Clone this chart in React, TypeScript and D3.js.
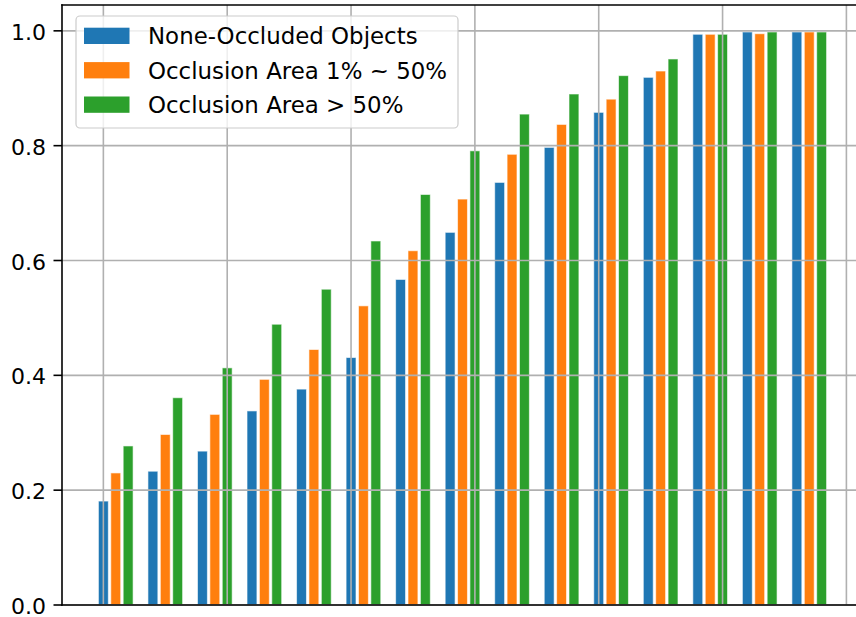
import React from "react";
import * as d3 from "d3";

const groups = d3.range(15);
const seriesNames = ["None-Occluded Objects", "Occlusion Area 1% ~ 50%", "Occlusion Area > 50%"];
const nonOccluded = [0.181, 0.233, 0.268, 0.338, 0.376, 0.431, 0.567, 0.649, 0.736, 0.797, 0.858, 0.919, 0.994, 0.998, 0.998];
const occluded1to50 = [0.230, 0.297, 0.332, 0.393, 0.445, 0.521, 0.617, 0.707, 0.785, 0.837, 0.881, 0.930, 0.994, 0.995, 0.998];
const occludedOver50 = [0.277, 0.361, 0.413, 0.489, 0.550, 0.634, 0.715, 0.791, 0.855, 0.890, 0.922, 0.951, 0.994, 0.998, 0.998];
const seriesValues = [nonOccluded, occluded1to50, occludedOver50];
const seriesOffsets = [0, 0.25, 0.5];
const colors = ["#1f77b4", "#ff7f0e", "#2ca02c"];
const yTicks = [0, 0.2, 0.4, 0.6, 0.8, 1.0];
const xGridTicks = [0, 2.5, 5, 7.5, 10, 12.5, 15];

const W = 856;
const H = 617;
const left = 62;
const right = 863;
const top = 5;
const bottom = 605;
const barWidth = 0.2;

export default function App() {
  const x = d3.scaleLinear().domain([-0.835, 15.335]).range([left, right]);
  const y = d3.scaleLinear().domain([0, 1.045]).range([bottom, top]);
  const bw = x(barWidth) - x(0);
  const gridColor = "#b0b0b0";
  const lw = 1.6;

  return (
    <div style={{ position: "absolute", left: 0, top: 0 }}>
      <svg width={W} height={H} style={{ display: "block", fontFamily: "DejaVu Sans" }}>
        <rect x={0} y={0} width={W} height={H} fill="#fff" />
        {/* bars */}
        {seriesValues.map((vals, s) => (
          <g key={s}>
            {groups.map((g) => {
              const cx = x(g + seriesOffsets[s]);
              return (
                <rect
                  key={g}
                  x={cx - bw / 2}
                  y={y(vals[g])}
                  width={bw}
                  height={y(0) - y(vals[g])}
                  fill={colors[s]}
                  stroke="#ffffff"
                  strokeOpacity={0.6}
                  strokeWidth={1}
                />
              );
            })}
          </g>
        ))}
        {/* grid */}
        <g>
          {yTicks.map((t) => (
            <line key={"h" + t} x1={left} x2={right} y1={y(t)} y2={y(t)} stroke={gridColor} strokeWidth={lw} />
          ))}
          {xGridTicks.map((t) => (
            <line key={"v" + t} x1={x(t)} x2={x(t)} y1={top} y2={bottom} stroke={gridColor} strokeWidth={lw} />
          ))}
        </g>
        {/* spines */}
        <line x1={left} x2={left} y1={top} y2={bottom} stroke="#000" strokeWidth={lw} strokeLinecap="square" />
        <line x1={left} x2={right} y1={bottom} y2={bottom} stroke="#000" strokeWidth={lw} strokeLinecap="square" />
        <line x1={left} x2={right} y1={top} y2={top} stroke="#000" strokeWidth={lw} strokeLinecap="square" />
        <line x1={right} x2={right} y1={top} y2={bottom} stroke="#000" strokeWidth={lw} />
        {/* y ticks */}
        {yTicks.map((t) => (
          <g key={"t" + t}>
            <line x1={left - 8.5} x2={left} y1={y(t)} y2={y(t)} stroke="#000" strokeWidth={lw} />
            <text x={46} y={y(t)} dy="0.41em" textAnchor="end" fontSize={22} fill="#000">
              {d3.format(".1f")(t)}
            </text>
          </g>
        ))}
        {/* legend */}
        <g>
          <rect x={76} y={16} width={382} height={112} rx={4} ry={4} fill="#fff" fillOpacity={0.8} stroke="#cccccc" strokeWidth={1.2} />
          {seriesNames.map((name, i) => {
            const cy = 35.8 + i * 34.4;
            return (
              <g key={name}>
                <rect x={84} y={cy - 8.1} width={45.5} height={16.3} fill={colors[i]} />
                <text x={148} y={cy} dy="0.37em" fontSize={22.9} fill="#000">
                  {name}
                </text>
              </g>
            );
          })}
        </g>
      </svg>
    </div>
  );
}
